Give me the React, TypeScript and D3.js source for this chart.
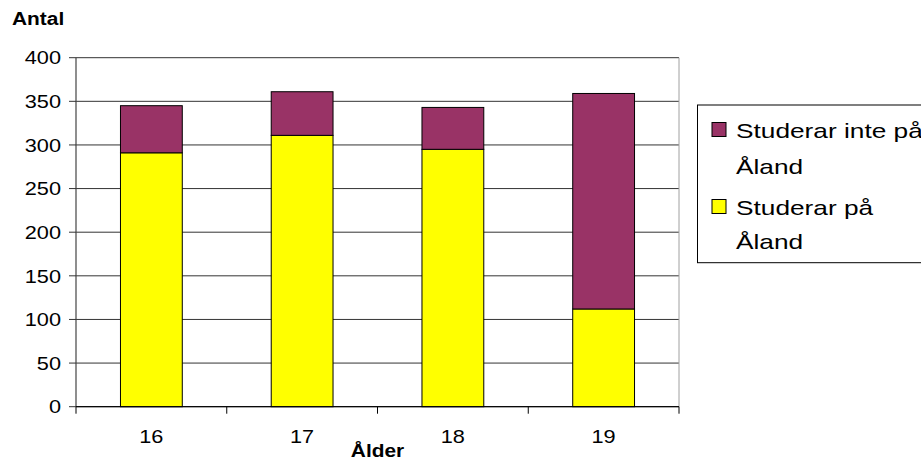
import React from "react";
import * as d3 from "d3";

const categories = ["16", "17", "18", "19"];
const studerarPa = [291, 311, 295, 112];
const studerarIntePa = [54, 50, 48, 247];
const yTicks = [0, 50, 100, 150, 200, 250, 300, 350, 400];
const seriesNames = ["Studerar inte på", "Studerar på"];
const yTitle = "Antal";
const xTitle = "Ålder";

const W = 921;
const H = 459;
const FONT = "'Liberation Sans', Arial, sans-serif";
const SX = 1.18;
const PURPLE = "#993366";
const YELLOW = "#FFFF00";

export default function App() {
  const x0 = 76;
  const x1 = 679;
  const yTop = 57.7;
  const yBot = 406.7;

  const x = d3
    .scaleBand<string>()
    .domain(categories)
    .range([x0, x1])
    .paddingInner(0.59)
    .paddingOuter(0.295);
  const y = d3.scaleLinear().domain([0, 400]).range([yBot, yTop]);

  const stackData = categories.map((c, i) => ({
    cat: c,
    pa: studerarPa[i],
    inte: studerarIntePa[i],
  }));
  const stack = d3.stack<any>().keys(["pa", "inte"]);
  const layers = stack(stackData);
  const colors: Record<string, string> = { pa: YELLOW, inte: PURPLE };

  const step = x.step();
  const boundaries = d3.range(categories.length + 1).map((i) => x0 + i * step);

  const txt = (
    s: string,
    tx: number,
    ty: number,
    size: number,
    anchor: string,
    bold = false,
    key?: string,
    sx: number = SX
  ) => (
    <text
      key={key}
      transform={`translate(${tx},${ty}) scale(${sx},1)`}
      textAnchor={anchor as any}
      fontFamily={FONT}
      fontSize={size}
      fontWeight={bold ? "bold" : "normal"}
      fill="#000"
    >
      {s}
    </text>
  );

  return (
    <div style={{ position: "absolute", left: 0, top: 0 }}>
      <svg width={W} height={H} viewBox={`0 0 ${W} ${H}`} style={{ display: "block" }}>
        <rect x={0} y={0} width={W} height={H} fill="#fff" />
        {/* gridlines */}
        {yTicks.map((t) => (
          <line
            key={"g" + t}
            x1={x0}
            x2={x1}
            y1={y(t)}
            y2={y(t)}
            stroke={t === 0 ? "#000" : "#333"}
            strokeWidth={1}
          />
        ))}
        {/* right border */}
        <line x1={x1} x2={x1} y1={yTop} y2={yBot} stroke="#a0a0a0" strokeWidth={1} />
        {/* bars */}
        {layers.map((layer) =>
          layer.map((d, i) => (
            <rect
              key={layer.key + i}
              x={x(categories[i])!}
              y={y(d[1])}
              width={x.bandwidth()}
              height={y(d[0]) - y(d[1])}
              fill={colors[layer.key]}
              stroke="#000"
              strokeWidth={1}
            />
          ))
        )}
        {/* y axis */}
        <line x1={x0} x2={x0} y1={yTop} y2={yBot} stroke="#444" strokeWidth={1.2} />
        {yTicks.map((t) => (
          <g key={"yt" + t}>
            <line x1={x0 - 7} x2={x0} y1={y(t)} y2={y(t)} stroke="#333" strokeWidth={1} />
            {txt(String(t), 61, y(t) + 6.7, 18.4, "end")}
          </g>
        ))}
        {/* x axis */}
        <line x1={x0} x2={x1} y1={yBot} y2={yBot} stroke="#000" strokeWidth={1} />
        {boundaries.map((b, i) => (
          <line key={"xt" + i} x1={b} x2={b} y1={yBot} y2={yBot + 7} stroke="#000" strokeWidth={1} />
        ))}
        {categories.map((c) =>
          txt(c, x(c)! + x.bandwidth() / 2, 443.3, 18.4, "middle", false, "xl" + c)
        )}
        {/* titles */}
        {txt(yTitle, 12, 25, 17.7, "start", true)}
        {txt(xTitle, (x0 + x1) / 2, 456.5, 17.7, "middle", true)}
        {/* legend */}
        <rect x={697.5} y={105} width={260} height={157.7} fill="#fff" stroke="#000" strokeWidth={1} />
        <rect x={712} y={122.5} width={14} height={14} fill={PURPLE} stroke="#000" strokeWidth={1} />
        {txt(seriesNames[0], 736, 138, 21, "start", false, undefined, 1.25)}
        {txt("Åland", 736, 173.5, 21, "start", false, undefined, 1.25)}
        <rect x={712} y={199.5} width={14} height={14} fill={YELLOW} stroke="#000" strokeWidth={1} />
        {txt(seriesNames[1], 736, 214.5, 21, "start", false, undefined, 1.25)}
        {txt("Åland", 736, 248.5, 21, "start", false, undefined, 1.25)}
      </svg>
    </div>
  );
}
